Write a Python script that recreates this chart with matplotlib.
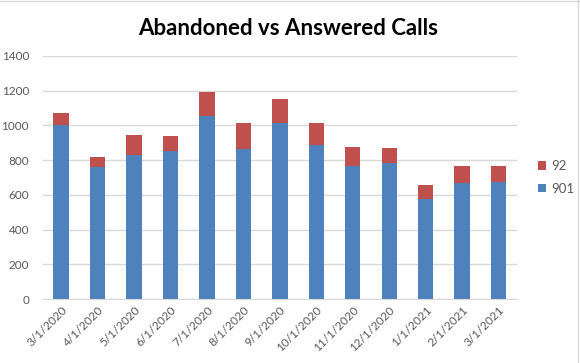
import matplotlib

matplotlib.use("Agg")
from matplotlib import pyplot as plt
from matplotlib.lines import Line2D

months = ["3/1/2020", "4/1/2020", "5/1/2020", "6/1/2020", "7/1/2020", "8/1/2020", "9/1/2020",
          "10/1/2020", "11/1/2020", "12/1/2020", "1/1/2021", "2/1/2021", "3/1/2021"]
answered_901 = [1002, 760, 830, 853, 1054, 864, 1014, 887, 768, 784, 576, 668, 676]
abandoned_92 = [70, 58, 115, 86, 139, 150, 138, 127, 108, 86, 81, 98, 90]
y_ticks = [0, 200, 400, 600, 800, 1000, 1200, 1400]

blue = "#4f81bd"
red = "#c0504d"
grey = "#595959"

plt.rcParams["font.family"] = ["Lato", "DejaVu Sans"]

fig = plt.figure(figsize=(5.8, 3.63), dpi=100)
ax = fig.add_axes([0.074, 0.176, 0.817, 0.67])

x = list(range(len(months)))
ax.bar(x, answered_901, width=0.42, color=blue, label="901", zorder=2)
ax.bar(x, abandoned_92, width=0.42, bottom=answered_901, color=red, label="92", zorder=2)

ax.set_xlim(-0.5, len(months) - 0.5)
ax.set_ylim(0, 1400)
ax.set_yticks(y_ticks)
ax.set_yticklabels([str(v) for v in y_ticks], color=grey, fontsize=8.5)
ax.set_xticks(x)
ax.set_xticklabels(months, rotation=45, ha="right", rotation_mode="anchor", color=grey, fontsize=8.5)
ax.tick_params(axis="both", length=0, pad=4)
ax.tick_params(axis="y", pad=10)
ax.grid(axis="y", color="#d9d9d9", linewidth=1, zorder=0)
for side in ("top", "right", "left"):
    ax.spines[side].set_visible(False)
ax.spines["bottom"].set_color("#d9d9d9")

fig.text(0.497, 0.921, "Abandoned vs Answered Calls", ha="center", va="center",
         fontsize=16, fontweight="bold", color="black")

handles, labels = ax.get_legend_handles_labels()
leg = ax.legend(handles[::-1], labels[::-1], loc="center left", bbox_to_anchor=(1.02, 0.5),
                frameon=False, fontsize=9.5, labelcolor=grey, handlelength=0.6, handleheight=0.6,
                handletextpad=0.4, labelspacing=0.8)

# faint chart-frame lines at the top and right edge
fig.add_artist(Line2D([0, 1], [0.997, 0.997], color="#d9d9d9", linewidth=1, transform=fig.transFigure))
fig.add_artist(Line2D([0.997, 0.997], [0, 1], color="#d9d9d9", linewidth=1, transform=fig.transFigure))

fig.savefig("out.png", dpi=100)
